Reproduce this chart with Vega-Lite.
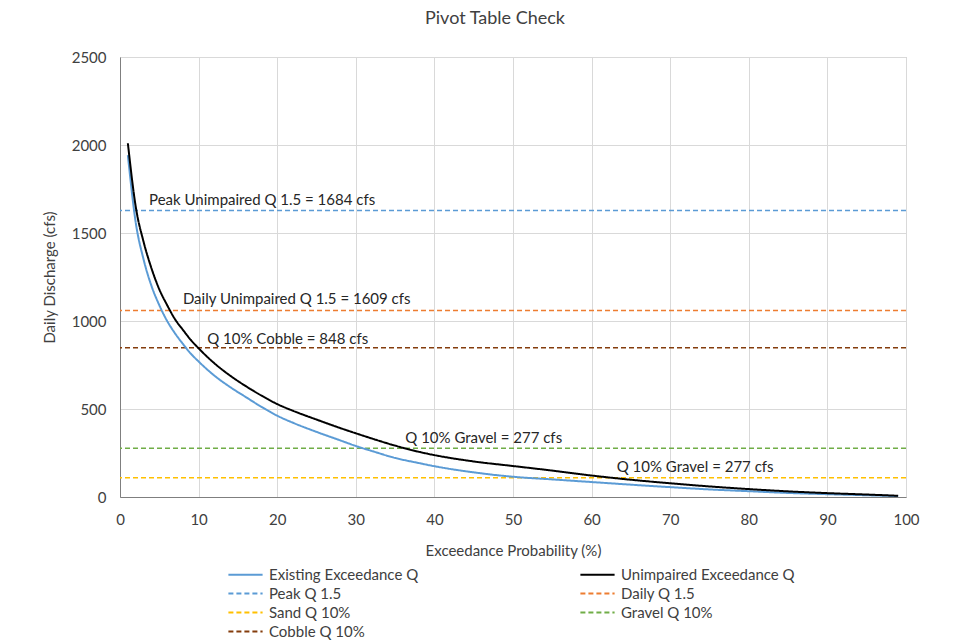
{
  "$schema": "https://vega.github.io/schema/vega-lite/v6.json",
  "width": 786,
  "height": 440,
  "autosize": {"type": "none"},
  "padding": {"left": 120, "top": 57, "right": 65, "bottom": 143},
  "background": "white",
  "title": {"text": "Pivot Table Check", "fontSize": 18, "font": "Lato", "fontWeight": "normal", "color": "#404040", "offset": 22, "dx": -18},
  "config": {
    "font": "Lato",
    "view": {"stroke": "#BFBFBF", "strokeWidth": 1},
    "axis": {"labelFont": "Lato", "titleFont": "Lato", "labelColor": "#404040", "titleColor": "#404040", "labelFontSize": 15, "titleFontSize": 15, "titleFontWeight": "normal", "gridColor": "#D9D9D9", "domainColor": "#7F7F7F", "ticks": false},
    "legend": {"title": null, "orient": "none", "legendX": 115, "legendY": 507, "columns": 2, "columnPadding": 157, "rowPadding": 0, "symbolType": "M-1.8,0H1.8", "symbolSize": 361, "symbolStrokeWidth": 2, "labelFontSize": 15, "labelFont": "Lato", "labelColor": "#404040", "labelLimit": 300, "labelOffset": 13}
  },
  "datasets": {
    "curves": [
      {"p": 1, "q": 1943, "series": "Existing Exceedance Q"},
      {"p": 2, "q": 1560, "series": "Existing Exceedance Q"},
      {"p": 3, "q": 1350, "series": "Existing Exceedance Q"},
      {"p": 4, "q": 1200, "series": "Existing Exceedance Q"},
      {"p": 5, "q": 1090, "series": "Existing Exceedance Q"},
      {"p": 6, "q": 1000, "series": "Existing Exceedance Q"},
      {"p": 7, "q": 930, "series": "Existing Exceedance Q"},
      {"p": 8, "q": 870, "series": "Existing Exceedance Q"},
      {"p": 9, "q": 815, "series": "Existing Exceedance Q"},
      {"p": 10, "q": 770, "series": "Existing Exceedance Q"},
      {"p": 12, "q": 690, "series": "Existing Exceedance Q"},
      {"p": 14, "q": 625, "series": "Existing Exceedance Q"},
      {"p": 16, "q": 568, "series": "Existing Exceedance Q"},
      {"p": 18, "q": 512, "series": "Existing Exceedance Q"},
      {"p": 20, "q": 462, "series": "Existing Exceedance Q"},
      {"p": 22, "q": 422, "series": "Existing Exceedance Q"},
      {"p": 25, "q": 370, "series": "Existing Exceedance Q"},
      {"p": 28, "q": 322, "series": "Existing Exceedance Q"},
      {"p": 30, "q": 290, "series": "Existing Exceedance Q"},
      {"p": 32, "q": 262, "series": "Existing Exceedance Q"},
      {"p": 35, "q": 222, "series": "Existing Exceedance Q"},
      {"p": 38, "q": 193, "series": "Existing Exceedance Q"},
      {"p": 40, "q": 175, "series": "Existing Exceedance Q"},
      {"p": 45, "q": 140, "series": "Existing Exceedance Q"},
      {"p": 50, "q": 115, "series": "Existing Exceedance Q"},
      {"p": 55, "q": 100, "series": "Existing Exceedance Q"},
      {"p": 60, "q": 85, "series": "Existing Exceedance Q"},
      {"p": 65, "q": 70, "series": "Existing Exceedance Q"},
      {"p": 70, "q": 56, "series": "Existing Exceedance Q"},
      {"p": 75, "q": 43, "series": "Existing Exceedance Q"},
      {"p": 80, "q": 33, "series": "Existing Exceedance Q"},
      {"p": 85, "q": 23, "series": "Existing Exceedance Q"},
      {"p": 90, "q": 16, "series": "Existing Exceedance Q"},
      {"p": 95, "q": 10, "series": "Existing Exceedance Q"},
      {"p": 99, "q": 5, "series": "Existing Exceedance Q"},
      {"p": 1, "q": 2010, "series": "Unimpaired Exceedance Q"},
      {"p": 2, "q": 1650, "series": "Unimpaired Exceedance Q"},
      {"p": 3, "q": 1450, "series": "Unimpaired Exceedance Q"},
      {"p": 4, "q": 1300, "series": "Unimpaired Exceedance Q"},
      {"p": 5, "q": 1180, "series": "Unimpaired Exceedance Q"},
      {"p": 6, "q": 1090, "series": "Unimpaired Exceedance Q"},
      {"p": 7, "q": 1010, "series": "Unimpaired Exceedance Q"},
      {"p": 8, "q": 950, "series": "Unimpaired Exceedance Q"},
      {"p": 9, "q": 893, "series": "Unimpaired Exceedance Q"},
      {"p": 10, "q": 845, "series": "Unimpaired Exceedance Q"},
      {"p": 12, "q": 760, "series": "Unimpaired Exceedance Q"},
      {"p": 14, "q": 690, "series": "Unimpaired Exceedance Q"},
      {"p": 16, "q": 630, "series": "Unimpaired Exceedance Q"},
      {"p": 18, "q": 576, "series": "Unimpaired Exceedance Q"},
      {"p": 20, "q": 528, "series": "Unimpaired Exceedance Q"},
      {"p": 22, "q": 490, "series": "Unimpaired Exceedance Q"},
      {"p": 25, "q": 440, "series": "Unimpaired Exceedance Q"},
      {"p": 28, "q": 392, "series": "Unimpaired Exceedance Q"},
      {"p": 30, "q": 362, "series": "Unimpaired Exceedance Q"},
      {"p": 32, "q": 333, "series": "Unimpaired Exceedance Q"},
      {"p": 35, "q": 292, "series": "Unimpaired Exceedance Q"},
      {"p": 38, "q": 257, "series": "Unimpaired Exceedance Q"},
      {"p": 40, "q": 238, "series": "Unimpaired Exceedance Q"},
      {"p": 45, "q": 202, "series": "Unimpaired Exceedance Q"},
      {"p": 50, "q": 176, "series": "Unimpaired Exceedance Q"},
      {"p": 55, "q": 150, "series": "Unimpaired Exceedance Q"},
      {"p": 60, "q": 122, "series": "Unimpaired Exceedance Q"},
      {"p": 65, "q": 98, "series": "Unimpaired Exceedance Q"},
      {"p": 70, "q": 78, "series": "Unimpaired Exceedance Q"},
      {"p": 75, "q": 60, "series": "Unimpaired Exceedance Q"},
      {"p": 80, "q": 45, "series": "Unimpaired Exceedance Q"},
      {"p": 85, "q": 32, "series": "Unimpaired Exceedance Q"},
      {"p": 90, "q": 22, "series": "Unimpaired Exceedance Q"},
      {"p": 95, "q": 14, "series": "Unimpaired Exceedance Q"},
      {"p": 99, "q": 7, "series": "Unimpaired Exceedance Q"}
    ],
    "refs": [
      {"series": "Peak Q 1.5", "q": 1628},
      {"series": "Daily Q 1.5", "q": 1060},
      {"series": "Sand Q  10%", "q": 110},
      {"series": "Gravel Q 10%", "q": 277},
      {"series": "Cobble Q 10%", "q": 848}
    ],
    "notes": [
      {"p": 3.7, "q": 1690, "label": "Peak Unimpaired Q 1.5 = 1684 cfs"},
      {"p": 8.0, "q": 1125, "label": "Daily Unimpaired Q 1.5 = 1609 cfs"},
      {"p": 11.1, "q": 900, "label": "Q 10% Cobble = 848 cfs"},
      {"p": 36.3, "q": 335, "label": "Q 10% Gravel = 277 cfs"},
      {"p": 63.2, "q": 170, "label": "Q 10% Gravel = 277 cfs"}
    ]
  },
  "layer": [
    {
      "data": {"name": "refs"},
      "mark": {"type": "rule", "strokeWidth": 1.5},
      "encoding": {
        "y": {"field": "q", "type": "quantitative", "scale": {"domain": [0, 2500], "nice": false}, "axis": {"title": "Daily Discharge (cfs)", "values": [0,500,1000,1500,2000,2500], "format": "d", "labelPadding": 14, "titlePadding": 14}},
        "color": {"field": "series", "type": "nominal", "scale": {"domain": ["Existing Exceedance Q", "Peak Q 1.5", "Sand Q  10%", "Cobble Q 10%", "Unimpaired Exceedance Q", "Daily Q 1.5", "Gravel Q 10%"], "range": ["#5B9BD5", "#5B9BD5", "#FFC000", "#843C0C", "#000000", "#ED7D31", "#70AD47"]}},
        "strokeDash": {"field": "series", "type": "nominal", "scale": {"domain": ["Existing Exceedance Q", "Peak Q 1.5", "Sand Q  10%", "Cobble Q 10%", "Unimpaired Exceedance Q", "Daily Q 1.5", "Gravel Q 10%"], "range": [[1,0], [5,3], [5,3], [5,3], [1,0], [5,3], [5,3]]}}
      }
    },
    {
      "data": {"name": "curves"},
      "mark": {"type": "line", "strokeWidth": 2, "interpolate": "monotone"},
      "encoding": {
        "x": {"field": "p", "type": "quantitative", "scale": {"domain": [0, 100], "nice": false}, "axis": {"title": "Exceedance Probability (%)", "values": [0,10,20,30,40,50,60,70,80,90,100], "labelPadding": 15, "titlePadding": 16, "labelFlush": false}},
        "y": {"field": "q", "type": "quantitative"},
        "color": {"field": "series", "type": "nominal"},
        "strokeDash": {"field": "series", "type": "nominal"}
      }
    },
    {
      "data": {"name": "notes"},
      "mark": {"type": "text", "align": "left", "baseline": "middle", "fontSize": 15, "font": "Lato", "color": "#262626"},
      "encoding": {
        "x": {"field": "p", "type": "quantitative"},
        "y": {"field": "q", "type": "quantitative"},
        "text": {"field": "label"}
      }
    }
  ]
}
